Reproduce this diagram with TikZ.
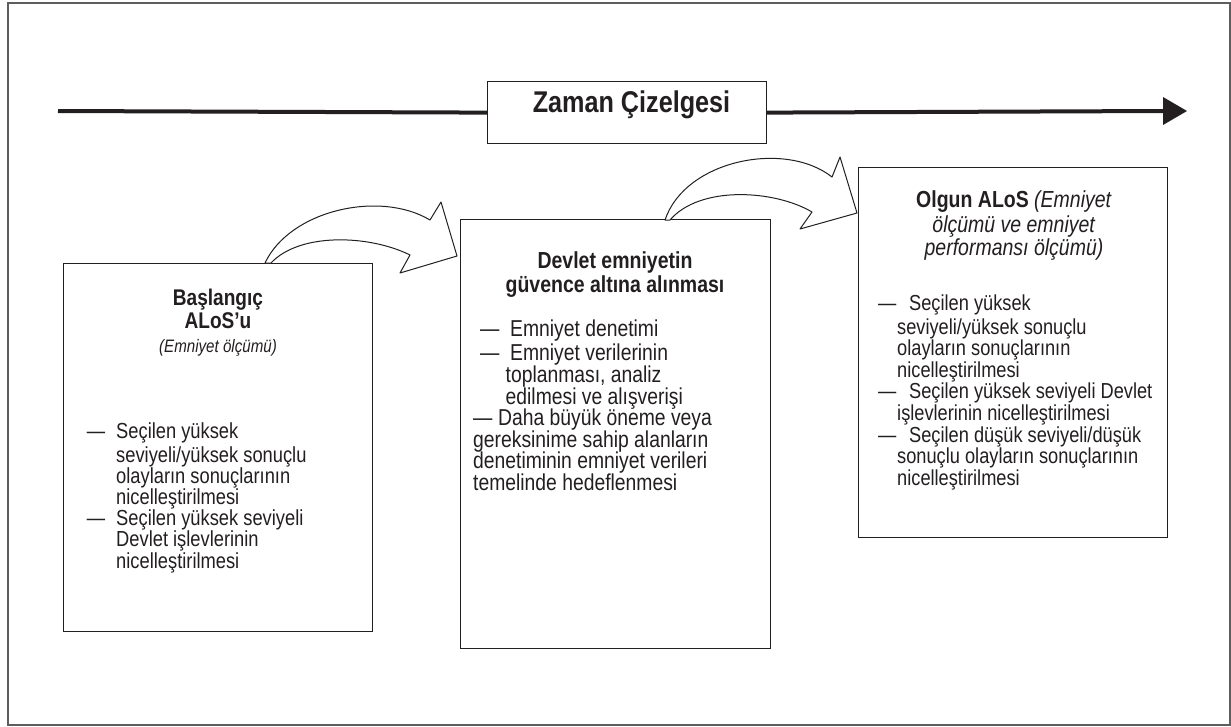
\documentclass[tikz,border=0pt]{standalone}
\usepackage{fontspec}
\setmainfont{Liberation Sans}[BoldFont={Liberation Sans Bold},
  ItalicFont={Liberation Sans Italic},FakeStretch=0.84]
\usetikzlibrary{calc}
\definecolor{ink}{HTML}{231F20}
\definecolor{framegray}{HTML}{5E5E5E}

\begin{document}
\begin{tikzpicture}[x=1pt,y=-1pt,
  panel/.style={draw=ink, line width=1.2pt, fill=white, inner sep=0pt,
                anchor=north west},
  headtext/.style={align=center, inner sep=0pt, anchor=north, text=ink},
  bodytext/.style={font=\fontsize{22}{21.6}\selectfont, align=left,
                   inner sep=0pt, anchor=north west, text=ink},
  blockarrow/.style={draw=ink, line width=1pt, fill=white, line join=round},
  timeline/.style={draw=ink, line width=4pt}
]
\useasboundingbox (0,0) rectangle (1231,726);

% outer frame
\draw[framegray, line width=1.6pt] (8,3) rectangle (1230,725);

% time line with its label box
\coordinate (tstart) at (58,111);
\coordinate (tbase) at (1163,111);
\coordinate (ttip) at (1187,111);
\node[panel, minimum width=279pt, minimum height=62pt] (tl) at (487,81) {};
\draw[timeline] (tstart) -- (tl.west);
\draw[timeline] (tl.east) -- (tbase);
\fill[ink] ($(tbase)+(0,-14)$) -- (ttip) -- ($(tbase)+(0,14)$) -- cycle;
\node[inner sep=0pt, anchor=base, text=ink,
      font=\fontsize{30}{34}\selectfont\bfseries] (tltext) at (631.5,112)
      {Zaman Çizelgesi};

% stage panels
\node[panel, minimum width=309pt, minimum height=368pt] (b1) at (63,263) {};
\node[panel, minimum width=310pt, minimum height=429pt] (b2) at (460,219) {};
\node[panel, minimum width=309pt, minimum height=370pt] (b3) at (858,167) {};

% block arrows between the panels
\coordinate (a1s) at ($(b1.north west)+(202,0)$);
\coordinate (a1e) at ($(b1.north west)+(208,0)$);
\coordinate (a1t) at ($(b2.north west)+(-3,37)$);
\draw[blockarrow] (a1s) .. controls (290,210) and (380,190) .. (430,220)
  -- (441,202) -- (a1t) -- (400,273) -- (410,255)
  .. controls (370,235) and (300,232) .. (a1e) -- cycle;

\coordinate (a2s) at ($(b2.north west)+(205,1)$);
\coordinate (a2e) at ($(b2.north west)+(210,1)$);
\coordinate (a2t) at ($(b3.north west)+(-1,46)$);
\draw[blockarrow] (a2s) .. controls (685,160) and (785,140) .. (832,177)
  -- (840,157) -- (a2t) -- (800,229) -- (812,212)
  .. controls (775,190) and (700,185) .. (a2e) -- cycle;

% panel 1
\node[headtext, font=\fontsize{22.7}{23.5}\selectfont] (h1) at (218,288.6)
  {\strut\textbf{Başlangıç}\\ \textbf{ALoS’u}\\
   {\fontsize{18}{23.5}\selectfont\itshape (Emniyet ölçümü)}};
\node[bodytext, font=\fontsize{21.8}{21.2}\selectfont] (t1) at (86.7,422.9)
  {\strut\makebox[29.3pt][l]{—}Seçilen yüksek\\
   \hspace*{29.3pt}seviyeli/yüksek sonuçlu\\
   \hspace*{29.3pt}olayların sonuçlarının\\
   \hspace*{29.3pt}nicelleştirilmesi\\
   \makebox[29.3pt][l]{—}Seçilen yüksek seviyeli\\
   \hspace*{29.3pt}Devlet işlevlerinin\\
   \hspace*{29.3pt}nicelleştirilmesi};

% panel 2
\node[headtext, font=\fontsize{23.2}{21.5}\selectfont\bfseries] (h2) at (615,251)
  {\strut Devlet emniyetin\\ güvence altına alınması};
\node[bodytext, font=\fontsize{23}{21.6}\selectfont] (t2) at (473,319.9)
  {\strut\hspace*{7pt}\makebox[30pt][l]{—}Emniyet denetimi\\
   \hspace*{7pt}\makebox[30pt][l]{—}Emniyet verilerinin\\
   \hspace*{32.5pt}toplanması, analiz\\
   \hspace*{32.5pt}edilmesi ve alışverişi\\
   \makebox[25pt][l]{—}Daha büyük öneme veya\\
   gereksinime sahip alanların\\
   denetiminin emniyet verileri\\
   temelinde hedeflenmesi};

% panel 3
\node[headtext, font=\fontsize{23.2}{23}\selectfont] (h3) at (1014,190.6)
  {\strut\textbf{Olgun ALoS} \textit{(Emniyet}\\
   \textit{ölçümü ve emniyet}\\ \textit{performansı ölçümü)}};
\node[bodytext, font=\fontsize{21.7}{21.6}\selectfont] (t3) at (878,294.9)
  {\strut\makebox[31pt][l]{—}Seçilen yüksek\\
   \hspace*{19pt}seviyeli/yüksek sonuçlu\\
   \hspace*{19pt}olayların sonuçlarının\\
   \hspace*{19pt}nicelleştirilmesi\\
   \makebox[31pt][l]{—}Seçilen yüksek seviyeli Devlet\\
   \hspace*{19pt}işlevlerinin nicelleştirilmesi\\
   \makebox[31pt][l]{—}Seçilen düşük seviyeli/düşük\\
   \hspace*{19pt}sonuçlu olayların sonuçlarının\\
   \hspace*{19pt}nicelleştirilmesi};
\end{tikzpicture}
\end{document}
